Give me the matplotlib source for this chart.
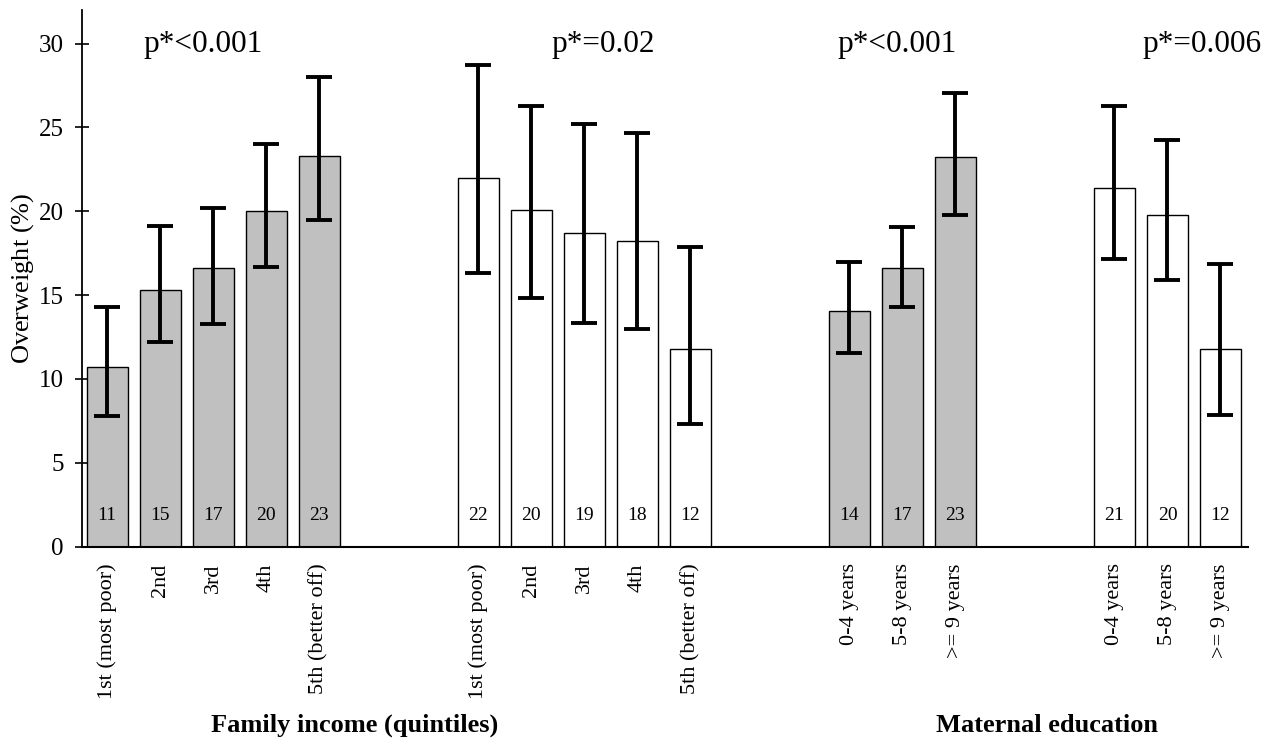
import matplotlib
matplotlib.use("Agg")
import matplotlib.pyplot as plt
import numpy as np

plt.rcParams['font.family'] = ['Liberation Serif', 'DejaVu Serif']
plt.rcParams['mathtext.fontset'] = 'custom'
plt.rcParams['mathtext.rm'] = 'Liberation Serif'
plt.rcParams['mathtext.it'] = 'Liberation Serif:italic'

# ---- data ----
income_labels = ["1st (most poor)", "2nd", "3rd", "4th", "5th (better off)"]
edu_labels = ["0-4 years", "5-8 years", ">= 9 years"]

inc_a_vals = [10.7, 15.3, 16.6, 20.0, 23.3]
inc_a_lo = [7.8, 12.2, 13.3, 16.7, 19.5]
inc_a_hi = [14.3, 19.1, 20.2, 24.0, 28.0]
inc_a_n = ["11", "15", "17", "20", "23"]

inc_b_vals = [22.0, 20.05, 18.7, 18.25, 11.8]
inc_b_lo = [16.3, 14.8, 13.35, 13.0, 7.3]
inc_b_hi = [28.75, 26.3, 25.2, 24.65, 17.9]
inc_b_n = ["22", "20", "19", "18", "12"]

edu_a_vals = [14.05, 16.6, 23.25]
edu_a_lo = [11.55, 14.3, 19.8]
edu_a_hi = [16.95, 19.05, 27.05]
edu_a_n = ["14", "17", "23"]

edu_b_vals = [21.4, 19.75, 11.8]
edu_b_lo = [17.15, 15.9, 7.85]
edu_b_hi = [26.25, 24.25, 16.85]
edu_b_n = ["21", "20", "12"]

p_texts = ["p*<0.001", "p*=0.02", "p*<0.001", "p*=0.006"]
p_x = [1.8, 9.36, 14.9, 20.65]
group_titles = ["Family income (quintiles)", "Maternal education"]

groups = [
    (0, income_labels, inc_a_vals, inc_a_lo, inc_a_hi, inc_a_n, '#c0c0c0'),
    (7, income_labels, inc_b_vals, inc_b_lo, inc_b_hi, inc_b_n, 'white'),
    (14, edu_labels, edu_a_vals, edu_a_lo, edu_a_hi, edu_a_n, '#c0c0c0'),
    (19, edu_labels, edu_b_vals, edu_b_lo, edu_b_hi, edu_b_n, 'white'),
]

fig = plt.figure(figsize=(12.65, 7.38), dpi=100)
ax = fig.add_axes([0.0646, 0.2592, 0.922, 0.7272])

all_x, all_lab = [], []
for start, labels, vals, lo, hi, ns, color in groups:
    x = np.arange(start, start + len(vals))
    vals = np.array(vals); lo = np.array(lo); hi = np.array(hi)
    ax.bar(x, vals, width=0.77, color=color, edgecolor='black', linewidth=1.0, zorder=2)
    ax.errorbar(x, vals, yerr=[vals - lo, hi - vals], fmt='none', ecolor='black',
                elinewidth=2.8, capsize=9.5, capthick=2.8, zorder=3)
    for xi, n in zip(x, ns):
        ax.text(xi, 1.85, n, ha='center', va='center', fontsize=14, zorder=4)
    all_x.extend(x); all_lab.extend(labels)

for t, px in zip(p_texts, p_x):
    ax.text(px, 29.5, t, ha='center', va='baseline', fontsize=22.5)

ax.set_xlim(-0.48, 21.52)
ax.set_ylim(0, 32)
ax.set_yticks([0, 5, 10, 15, 20, 25, 30])
ax.set_xticks(all_x)
ax.set_xticklabels(all_lab, rotation=90, fontsize=16, va='top')
ax.tick_params(axis='x', length=0, pad=12)
ax.tick_params(axis='y', direction='inout', length=10, width=1.2, pad=8, labelsize=18)
ax.set_ylabel(r'Overweight ($\mathit{\%}$)', fontsize=19, labelpad=2)
for s in ['top', 'right']:
    ax.spines[s].set_visible(False)
ax.spines['left'].set_linewidth(1.3)
ax.spines['bottom'].set_linewidth(1.5)

fig.text(355 / 1265, 6 / 738, group_titles[0], ha='center', va='baseline',
         fontsize=19, fontweight='bold')
fig.text(1047.5 / 1265, 6 / 738, group_titles[1], ha='center', va='baseline',
         fontsize=19, fontweight='bold')

fig.savefig('out.png', dpi=100)
